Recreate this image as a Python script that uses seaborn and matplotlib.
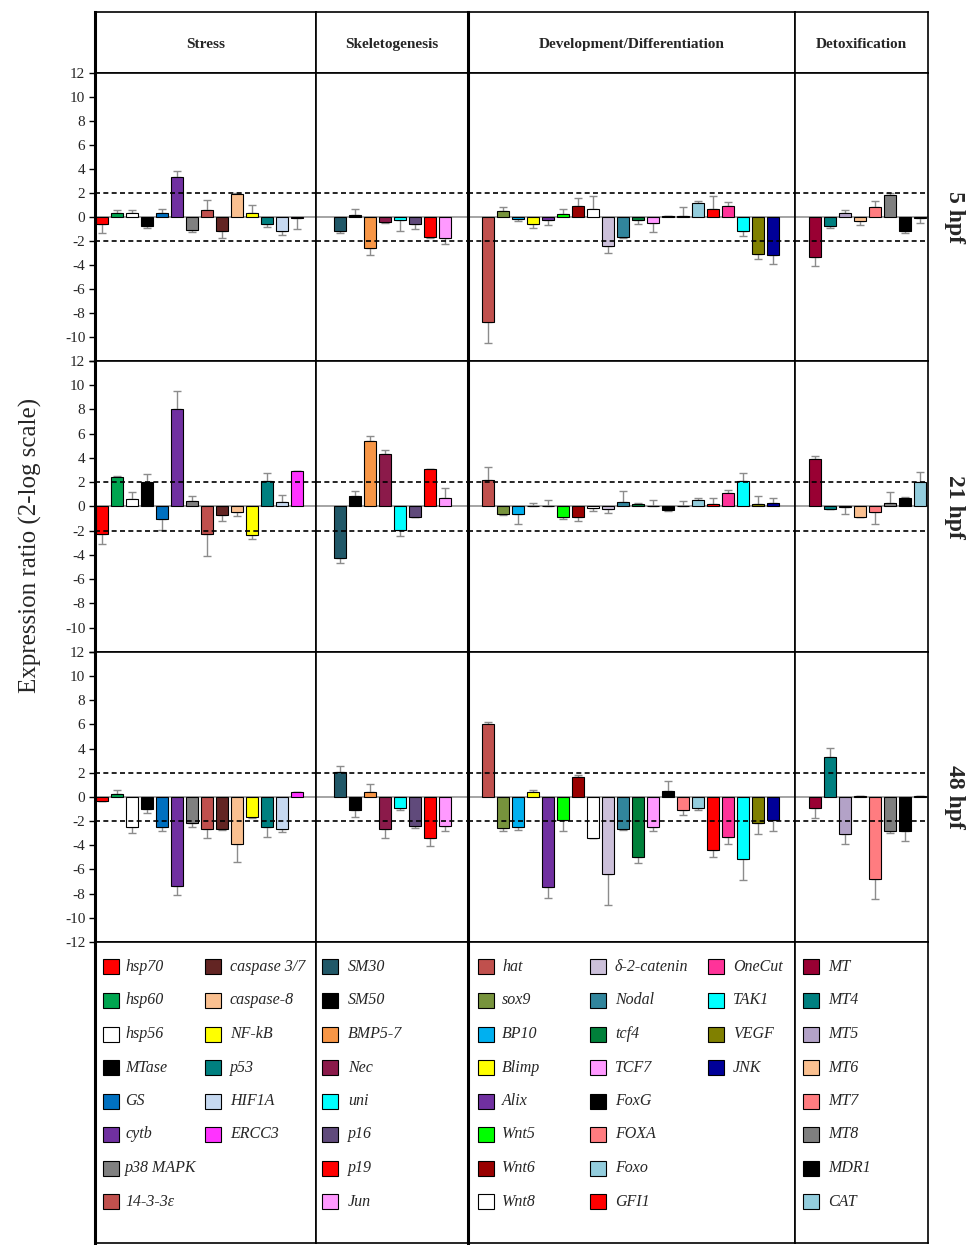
import matplotlib
matplotlib.use("Agg")
import matplotlib.pyplot as plt
import matplotlib.transforms as mtransforms
import numpy as np
import pandas as pd
import seaborn as sns
from matplotlib.patches import Rectangle

# --- genes and colours per functional group ---
stress_genes = ["hsp70", "hsp60", "hsp56", "MTase", "GS", "cytb", "p38 MAPK", "14-3-3ε",
                "caspase 3/7", "caspase-8", "NF-kB", "p53", "HIF1A", "ERCC3"]
stress_colors = ["#FF0000", "#00A550", "#FFFFFF", "#000000", "#0070C0", "#7030A0", "#808080", "#C0504D",
                 "#632523", "#FAC090", "#FFFF00", "#008080", "#C6D9F1", "#FF33FF"]

skel_genes = ["SM30", "SM50", "BMP5-7", "Nec", "uni", "p16", "p19", "Jun"]
skel_colors = ["#215868", "#000000", "#F79646", "#8B1A4A", "#00FFFF", "#604A7B", "#FF0000", "#FF99FF"]

dev_genes = ["hat", "sox9", "BP10", "Blimp", "Alix", "Wnt5", "Wnt6", "Wnt8",
             "δ-2-catenin", "Nodal", "tcf4", "TCF7", "FoxG", "FOXA", "Foxo", "GFI1",
             "OneCut", "TAK1", "VEGF", "JNK"]
dev_colors = ["#C0504D", "#77933C", "#00B0F0", "#FFFF00", "#7030A0", "#00FF00", "#990000", "#FFFFFF",
              "#CCC0DA", "#31859C", "#00803A", "#FF99FF", "#000000", "#FF7C80", "#93CDDD", "#FF0000",
              "#FF3399", "#00FFFF", "#808000", "#000099"]

detox_genes = ["MT", "MT4", "MT5", "MT6", "MT7", "MT8", "MDR1", "CAT"]
detox_colors = ["#990033", "#008080", "#B3A2C7", "#FAC090", "#FF7C80", "#7F7F7F", "#000000", "#93CDDD"]

# --- expression ratios (2-log) and error magnitudes ---
stress_5 = [-0.55, 0.36, 0.36, -0.75, 0.36, 3.36, -1.08, 0.58, -1.17, 1.89, 0.36, -0.55, -1.17, -0.05]
stress_5_err = [0.8, 0.22, 0.22, 0.15, 0.28, 0.47, 0.17, 0.82, 0.55, 0.08, 0.61, 0.28, 0.33, 0.95]
stress_21 = [-2.3, 2.47, 0.61, 2.06, -1.06, 8.06, 0.42, -2.3, -0.72, -0.44, -2.36, 2.14, 0.39, 2.89]
stress_21_err = [0.76, 0.05, 0.56, 0.58, 0.88, 1.44, 0.47, 1.8, 0.47, 0.34, 0.36, 0.64, 0.55, 0.0]
stress_48 = [-0.33, 0.22, -2.52, -0.96, -2.47, -7.37, -2.19, -2.66, -2.66, -3.89, -1.62, -2.52, -2.66, 0.41]
stress_48_err = [0.0, 0.33, 0.46, 0.33, 0.32, 0.71, 0.28, 0.76, 0.06, 1.45, 0.08, 0.77, 0.22, 0.0]

skel_5 = [-1.17, 0.14, -2.6, -0.39, -0.25, -0.55, -1.67, -1.72]
skel_5_err = [0.19, 0.5, 0.6, 0.1, 0.92, 0.45, 0.06, 0.56]
skel_21 = [-4.25, 0.89, 5.39, 4.3, -1.94, -0.83, 3.06, 0.67]
skel_21_err = [0.4, 0.41, 0.41, 0.4, 0.5, 0.0, 0.0, 0.83]
skel_48 = [2.08, -1.1, 0.44, -2.66, -0.88, -2.44, -3.42, -2.44]
skel_48_err = [0.52, 0.52, 0.6, 0.76, 0.22, 0.16, 0.61, 0.41]

dev_5 = [-8.75, 0.5, -0.19, -0.55, -0.28, 0.22, 0.92, 0.69, -2.42, -1.67, -0.25, -0.53, 0.05, 0.1,
         1.14, 0.69, 0.92, -1.17, -3.06, -3.17]
dev_5_err = [1.75, 0.36, 0.14, 0.34, 0.41, 0.47, 0.66, 1.06, 0.55, 0.06, 0.35, 0.72, 0.05, 0.73,
             0.19, 1.06, 0.33, 0.41, 0.41, 0.77]
dev_21 = [2.22, -0.64, -0.64, 0.05, 0.05, -0.83, -0.83, -0.14, -0.17, 0.39, 0.22, 0.03, -0.28, 0.05,
          0.56, 0.19, 1.08, 2.14, 0.22, 0.28]
dev_21_err = [1.03, 0.05, 0.78, 0.23, 0.48, 0.17, 0.36, 0.22, 0.39, 0.89, 0.06, 0.5, 0.05, 0.42,
              0.11, 0.48, 0.31, 0.64, 0.67, 0.39]
dev_48 = [6.08, -2.6, -2.52, 0.44, -7.45, -1.92, 1.67, -3.4, -6.41, -2.66, -4.99, -2.52, 0.49, -1.07,
          -0.88, -4.38, -3.29, -5.12, -2.19, -1.89]
dev_48_err = [0.12, 0.25, 0.19, 0.11, 0.91, 0.87, 0.11, 0.0, 2.55, 0.06, 0.49, 0.27, 0.83, 0.44,
              0.19, 0.61, 0.6, 1.78, 0.88, 0.96]

detox_5 = [-3.33, -0.75, 0.36, -0.33, 0.83, 1.8, -1.17, -0.1]
detox_5_err = [0.75, 0.19, 0.22, 0.36, 0.5, 0.17, 0.19, 0.37]
detox_21 = [3.94, -0.17, -0.08, -0.83, -0.44, 0.25, 0.69, 2.0]
detox_21_err = [0.23, 0.05, 0.5, 0.0, 1.03, 0.92, 0.11, 0.83]
detox_48 = [-0.93, 3.32, -3.07, 0.08, -6.82, -2.79, -2.79, 0.05]
detox_48_err = [0.77, 0.73, 0.82, 0.0, 1.65, 0.22, 0.83, 0.0]

group_titles = ["Stress", "Skeletogenesis", "Development/Differentiation", "Detoxification"]
time_labels = ["5 hpf", "21 hpf", "48 hpf"]

groups = [
    (stress_genes, stress_colors, [(stress_5, stress_5_err), (stress_21, stress_21_err), (stress_48, stress_48_err)]),
    (skel_genes, skel_colors, [(skel_5, skel_5_err), (skel_21, skel_21_err), (skel_48, skel_48_err)]),
    (dev_genes, dev_colors, [(dev_5, dev_5_err), (dev_21, dev_21_err), (dev_48, dev_48_err)]),
    (detox_genes, detox_colors, [(detox_5, detox_5_err), (detox_21, detox_21_err), (detox_48, detox_48_err)]),
]

# layout (pixel widths of the columns, category limits, legend sub-column offsets)
col_px = [221, 152, 327, 133]
xlims = [(-0.47, 14.27), (-1.6, 8.53), (-1.33, 20.47), (-1.33, 7.54)]
legend_cols = [[(8, 30), (110, 135)], [(6, 32)], [(10, 34), (122, 147), (240, 265)], [(8, 33)]]
row_px = [61, 288, 291, 290, 301]

sns.set_style("white")
plt.rcParams["font.family"] = ["Liberation Serif", "DejaVu Serif"]

fig = plt.figure(figsize=(9.67, 12.45), dpi=100)
gs = fig.add_gridspec(5, 4, left=95 / 967, right=928 / 967, top=1 - 12 / 1245, bottom=2 / 1245,
                      width_ratios=col_px, height_ratios=row_px, hspace=0, wspace=0)


def frame(ax, col):
    for side, sp in ax.spines.items():
        sp.set_visible(True)
        sp.set_color("black")
        sp.set_linewidth(1.2)
    if col in (0, 2):
        ax.spines["left"].set_linewidth(2.2)


def draw_panel(ax, genes, colors, values, errors, xlim):
    df = pd.DataFrame({"gene": genes, "value": values})
    sns.barplot(data=df, x="gene", y="value", hue="gene", order=genes, hue_order=genes,
                palette=dict(zip(genes, colors)), saturation=1, errorbar=None, legend=False,
                edgecolor="black", linewidth=0.8, width=0.8, ax=ax, zorder=2)
    v = np.asarray(values, dtype=float)
    e = np.asarray(errors, dtype=float)
    lower = np.where(v < 0, e, 0.0)
    upper = np.where(v >= 0, e, 0.0)
    ax.errorbar(np.arange(len(genes)), v, yerr=[lower, upper], fmt="none", ecolor="#8c8c8c",
                elinewidth=1.0, capsize=3, capthick=1.0, zorder=1.5)
    ax.axhline(0, color="#8c8c8c", lw=1.1, zorder=1)
    for lvl in (2, -2):
        ax.axhline(lvl, color="black", lw=1.2, ls=(0, (3, 2)), zorder=3)
    ax.set_xlim(*xlim)
    ax.set_ylim(-12, 12)
    ax.set_xlabel("")
    ax.set_ylabel("")
    ax.set_xticks([])


for c, (genes, colors, series) in enumerate(groups):
    # header
    hax = fig.add_subplot(gs[0, c])
    hax.set_xticks([])
    hax.set_yticks([])
    frame(hax, c)
    hax.text(0.5, 0.47, group_titles[c], ha="center", va="center", fontsize=11, fontweight="bold",
             transform=hax.transAxes)

    for r, (vals, errs) in enumerate(series):
        ax = fig.add_subplot(gs[r + 1, c])
        draw_panel(ax, genes, colors, vals, errs, xlims[c])
        frame(ax, c)
        ticks = np.arange(-12, 13, 2)
        ax.set_yticks(ticks)
        if c == 0:
            labels = [str(t) for t in ticks]
            if r < 2:
                labels[0] = ""
            ax.set_yticklabels(labels)
            ax.tick_params(axis="y", left=True, direction="out", length=4, width=1,
                           color="black", labelsize=11, pad=3)
        else:
            ax.set_yticklabels([])
            ax.tick_params(axis="y", left=False)
        if c == 3:
            tr = mtransforms.blended_transform_factory(fig.transFigure, ax.transData)
            ax.text(955 / 967, 0, time_labels[r], rotation=270, ha="center", va="center",
                    fontsize=17, fontweight="bold", transform=tr, clip_on=False)

    # legend
    lax = fig.add_subplot(gs[4, c])
    lax.set_xlim(0, col_px[c])
    lax.set_ylim(row_px[4], 0)
    lax.set_xticks([])
    lax.set_yticks([])
    frame(lax, c)
    for i, (g, col) in enumerate(zip(genes, colors)):
        px, tx = legend_cols[c][i // 8]
        y = 25 + 33.5 * (i % 8)
        lax.add_patch(Rectangle((px, y - 7.5), 16, 15, facecolor=col, edgecolor="black", lw=0.8))
        lax.text(tx, y, g, ha="left", va="center", fontsize=11.5, fontstyle="italic")

fig.text(30 / 967, 1 - 545 / 1245, "Expression ratio (2-log scale)", rotation=90,
         ha="center", va="center", fontsize=18)

fig.savefig("out.png", dpi=100)
